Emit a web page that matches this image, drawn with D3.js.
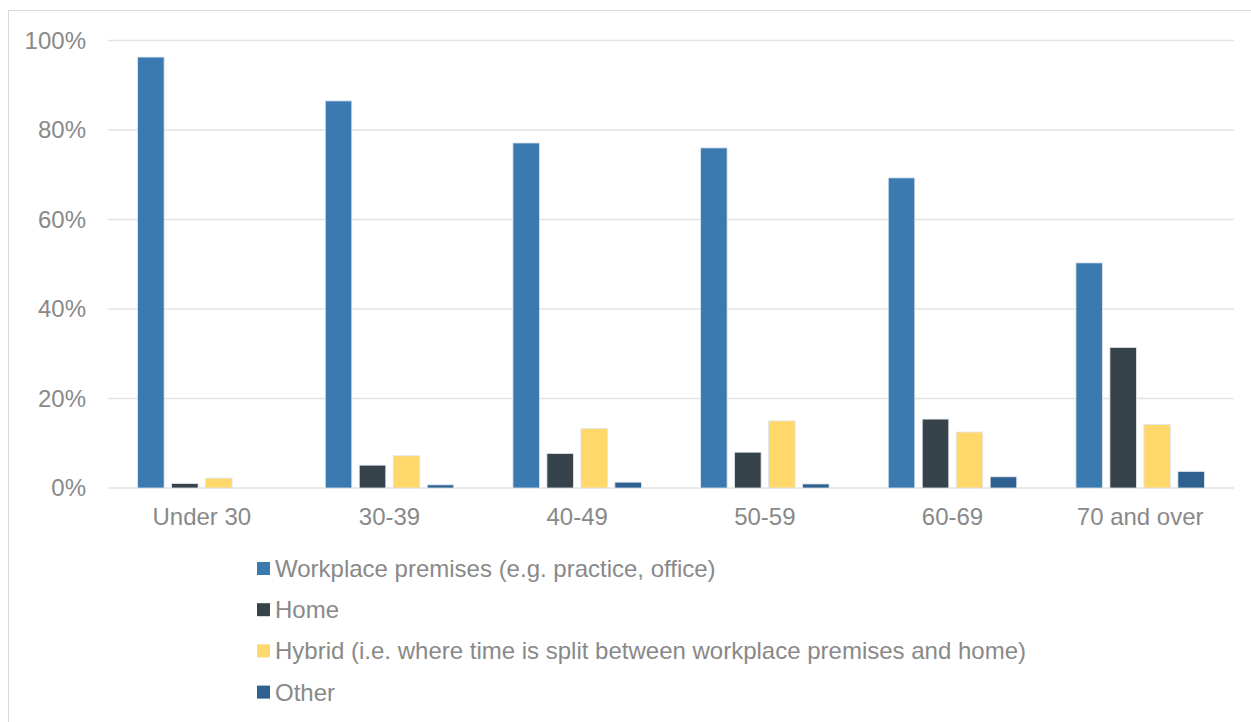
<!DOCTYPE html>
<html>
<head>
<meta charset="utf-8">
<script src="https://cdn.jsdelivr.net/npm/d3@7"></script>
<style>
  body { margin: 0; background: #fff; }
  text { font-family: "Liberation Sans", Arial, sans-serif; }
</style>
</head>
<body>
<div id="chart"></div>
<script>
    const categories = ["Under 30", "30-39", "40-49", "50-59", "60-69", "70 and over"];
    const seriesNames = [
        "Workplace premises (e.g. practice, office)",
        "Home",
        "Hybrid (i.e. where time is split between workplace premises and home)",
        "Other"
    ];
    const seriesColors = ["#3a7ab1", "#36434b", "#ffd86b", "#2e6190"];
    const workplace = [96.3, 86.5, 77.1, 76.0, 69.3, 50.3];
    const home = [1.0, 5.1, 7.7, 8.0, 15.4, 31.4];
    const hybrid = [2.2, 7.2, 13.3, 15.0, 12.5, 14.2];
    const other = [0, 0.7, 1.3, 0.9, 2.5, 3.7];
    const yTicks = [0, 20, 40, 60, 80, 100];

    const series = [workplace, home, hybrid, other];
    const data = categories.map((c, i) => ({
        cat: c,
        values: series.map((s, j) => ({ key: seriesNames[j], value: s[i], idx: j }))
    }));

    const W = 1251, H = 722;
    const margin = { top: 40.5, right: 17, bottom: 234, left: 108 };
    const width = W - margin.left - margin.right;
    const height = H - margin.top - margin.bottom;
    const fontSize = "24px";
    const textColor = "#898989";

    const svg = d3.select("#chart").append("svg")
        .attr("width", W)
        .attr("height", H);

    // outer border of the chart area
    svg.append("rect")
        .attr("x", 8.5).attr("y", 10.5)
        .attr("width", W).attr("height", H)
        .attr("fill", "none")
        .attr("stroke", "#d9d9d9")
        .attr("stroke-width", 1);

    const g = svg.append("g")
        .attr("transform", `translate(${margin.left},${margin.top})`);

    // scales
    const x0 = d3.scaleBand()
        .domain(categories)
        .range([0, width]);

    const pad = 29.6;
    const x1 = d3.scaleBand()
        .domain(d3.range(seriesNames.length))
        .range([pad, x0.bandwidth() - pad])
        .paddingInner(0.22);

    const y = d3.scaleLinear()
        .domain([0, 100])
        .range([height, 0]);

    // gridlines
    g.selectAll(".grid")
        .data(yTicks)
        .enter()
        .append("line")
            .attr("class", "grid")
            .attr("x1", 0)
            .attr("x2", width)
            .attr("y1", d => y(d))
            .attr("y2", d => y(d))
            .style("stroke", "#e3e3e3")
            .style("stroke-width", 1.5);

    // y axis
    g.append("g")
        .call(d3.axisLeft(y).tickValues(yTicks).tickFormat(d => `${d}%`).tickSize(0).tickPadding(22))
        .call(ax => ax.select(".domain").remove())
        .call(ax => ax.selectAll("text")
            .style("font-size", fontSize)
            .style("font-family", "Liberation Sans, Arial, sans-serif")
            .attr("fill", textColor));

    // bars
    const groups = g.selectAll(".cat")
        .data(data)
        .enter()
        .append("g")
            .attr("class", "cat")
            .attr("transform", d => `translate(${x0(d.cat)},0)`);

    groups.selectAll("rect")
        .data(d => d.values.filter(v => v.value > 0))
        .enter()
        .append("rect")
            .attr("x", d => x1(d.idx))
            .attr("y", d => y(d.value))
            .attr("width", x1.bandwidth())
            .attr("height", d => y(0) - y(d.value))
            .attr("fill", d => seriesColors[d.idx])
            .attr("stroke", "#dfe6ee")
            .attr("stroke-width", 0.8);

    // x axis
    g.append("g")
        .attr("transform", `translate(0,${height})`)
        .call(d3.axisBottom(x0).tickSize(0).tickPadding(20))
        .call(ax => ax.select(".domain").remove())
        .call(ax => ax.selectAll("text")
            .style("font-size", fontSize)
            .style("font-family", "Liberation Sans, Arial, sans-serif")
            .attr("fill", textColor));

    // legend
    const legend = svg.append("g")
        .attr("transform", "translate(257,568.5)");

    const items = legend.selectAll(".item")
        .data(seriesNames)
        .enter()
        .append("g")
            .attr("class", "item")
            .attr("transform", (d, i) => `translate(0,${i * 41.2})`);

    items.append("rect")
        .attr("x", 0)
        .attr("y", -6.5)
        .attr("width", 13)
        .attr("height", 13)
        .attr("fill", (d, i) => seriesColors[i]);

    items.append("text")
        .attr("x", 18)
        .attr("y", 0)
        .attr("dy", "0.35em")
        .style("font-size", fontSize)
        .attr("fill", textColor)
        .text(d => d);
</script>
</body>
</html>
